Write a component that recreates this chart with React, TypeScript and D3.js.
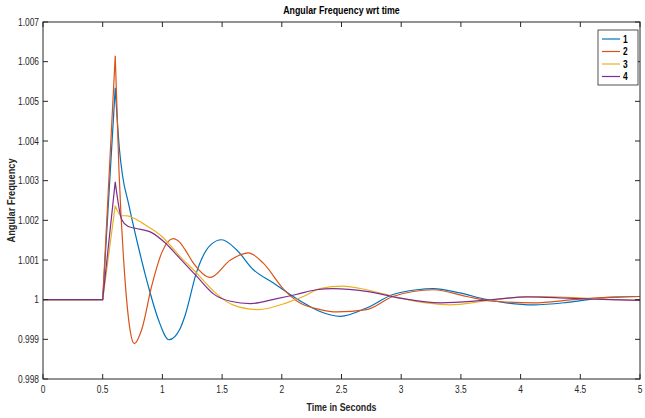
import React from "react";
import * as d3 from "d3";

const seriesNames = ["1", "2", "3", "4"];
const seriesColors = ["#0072BD", "#D95319", "#EDB120", "#7E2F8E"];

const time1 = [0, 0.5, 0.605, 0.64, 0.665, 0.715, 0.798, 0.882, 0.966, 1.055, 1.15, 1.19, 1.287, 1.4, 1.497, 1.62, 1.76, 1.93, 2.07, 2.21, 2.32, 2.49, 2.71, 2.93, 3.13, 3.27, 3.49, 3.72, 3.88, 4.11, 4.39, 4.67, 5.0];
const value1 = [1, 1, 1.00534, 1.0038, 1.00315, 1.00244, 1.00134, 1.00034, 0.9995, 0.99899, 0.99928, 0.9996, 1.0007, 1.00137, 1.00151, 1.00126, 1.00076, 1.00042, 1.00013, 0.99987, 0.9997, 0.99958, 0.99979, 1.00013, 1.00025, 1.00028, 1.00017, 1.0, 0.99992, 0.99987, 0.99993, 1.00004, 1.00008];

const time2 = [0, 0.5, 0.605, 0.636, 0.687, 0.729, 0.765, 0.826, 0.91, 0.994, 1.09, 1.15, 1.19, 1.26, 1.4, 1.57, 1.72, 1.845, 2.01, 2.15, 2.32, 2.46, 2.71, 2.93, 3.27, 3.55, 3.77, 4.11, 4.44, 4.8, 5.0];
const value2 = [1, 1, 1.00615, 1.00328, 1.0005, 0.99924, 0.99889, 0.99924, 1.00034, 1.00118, 1.00154, 1.00143, 1.00126, 1.00092, 1.00056, 1.001, 1.00118, 1.00092, 1.00028, 0.99992, 0.99975, 0.99969, 0.99975, 1.00008, 1.00025, 1.00008, 0.99996, 0.99992, 1.0, 1.00007, 1.00008];

const time3 = [0, 0.5, 0.605, 0.653, 0.71, 0.756, 0.854, 0.994, 1.15, 1.287, 1.43, 1.59, 1.8, 2.04, 2.18, 2.32, 2.51, 2.71, 2.99, 3.21, 3.41, 3.69, 3.97, 4.16, 4.53, 4.8, 5.0];
const value3 = [1, 1, 1.00237, 1.00212, 1.00211, 1.00206, 1.00189, 1.0016, 1.00108, 1.00067, 1.00021, 0.99987, 0.99975, 0.99992, 1.00008, 1.00028, 1.00034, 1.00025, 1.00004, 0.99992, 0.99987, 0.99996, 1.00006, 1.00008, 1.00004, 1.0, 0.99998];

const time4 = [0, 0.5, 0.605, 0.659, 0.71, 0.77, 0.91, 1.02, 1.15, 1.29, 1.43, 1.57, 1.74, 1.95, 2.12, 2.29, 2.43, 2.71, 2.99, 3.33, 3.69, 4.05, 4.39, 4.75, 5.0];
const value4 = [1, 1, 1.00297, 1.00202, 1.00185, 1.0018, 1.00169, 1.00144, 1.00103, 1.00058, 1.00014, 0.99996, 0.9999, 1.00002, 1.00013, 1.00025, 1.00028, 1.00021, 1.00004, 0.99992, 0.99998, 1.00007, 1.00004, 1.0, 0.99998];

const xTicks = [0, 0.5, 1, 1.5, 2, 2.5, 3, 3.5, 4, 4.5, 5];
const xTickLabels = ["0", "0.5", "1", "1.5", "2", "2.5", "3", "3.5", "4", "4.5", "5"];
const yTicks = [0.998, 0.999, 1, 1.001, 1.002, 1.003, 1.004, 1.005, 1.006, 1.007];
const yTickLabels = ["0.998", "0.999", "1", "1.001", "1.002", "1.003", "1.004", "1.005", "1.006", "1.007"];

const titleText = "Angular Frequency wrt time";
const xLabelText = "Time in Seconds";
const yLabelText = "Angular Frequency";

const W = 645;
const H = 418;
const M = { left: 43, right: 5, top: 22, bottom: 39 };
const FONT = "'Liberation Sans', Arial, sans-serif";
const AX = "#262626";
const SX = 0.84;

function NText(props: {
  x: number;
  y: number;
  rotate?: number;
  anchor?: "start" | "middle" | "end";
  size: number;
  bold?: boolean;
  fill?: string;
  children: React.ReactNode;
}) {
  const { x, y, rotate = 0, anchor = "start", size, bold, fill = "#262626", children } = props;
  return (
    <text
      transform={`translate(${x},${y}) rotate(${rotate}) scale(${SX},1)`}
      textAnchor={anchor}
      fontSize={size}
      fontWeight={bold ? "bold" : "normal"}
      fill={fill}
    >
      {children}
    </text>
  );
}

export default function App() {
  const x = d3.scaleLinear().domain([0, 5]).range([M.left, W - M.right]);
  const y = d3.scaleLinear().domain([0.998, 1.007]).range([H - M.bottom, M.top]);

  const allTimes = [time1, time2, time3, time4];
  const allValues = [value1, value2, value3, value4];

  const series = allTimes.map((ts, i) =>
    ts.map((t, j) => [t, allValues[i][j]] as [number, number])
  );

  const linearLine = d3
    .line<[number, number]>()
    .x((d) => x(d[0]))
    .y((d) => y(d[1]))
    .curve(d3.curveLinear);
  const smoothLine = d3
    .line<[number, number]>()
    .x((d) => x(d[0]))
    .y((d) => y(d[1]))
    .curve(d3.curveMonotoneX);

  const pathFor = (pts: [number, number][]) => {
    const peak = d3.maxIndex(pts, (d) => d[1]);
    const head = linearLine(pts.slice(0, peak + 1)) || "";
    const tail = smoothLine(pts.slice(peak)) || "";
    return head + " " + tail;
  };

  const x0 = M.left;
  const x1 = W - M.right;
  const y0 = H - M.bottom;
  const y1 = M.top;
  const tl = 5;

  const legX = 598;
  const legY = 30;
  const legW = 40;
  const legH = 55;

  return (
    <svg
      width={W}
      height={H}
      style={{ position: "absolute", left: 0, top: 0, background: "#fff" }}
      fontFamily={FONT}
    >
      <rect x={0} y={0} width={W} height={H} fill="#fff" />
      {series.map((pts, i) => (
        <path
          key={i}
          d={pathFor(pts)}
          fill="none"
          stroke={seriesColors[i]}
          strokeWidth={1.2}
          strokeLinejoin="round"
        />
      ))}
      <rect x={x0} y={y1} width={x1 - x0} height={y0 - y1} fill="none" stroke={AX} strokeWidth={1} />
      {xTicks.map((t, i) => (
        <g key={"xt" + i}>
          <line x1={x(t)} x2={x(t)} y1={y0} y2={y0 - tl} stroke={AX} />
          <line x1={x(t)} x2={x(t)} y1={y1} y2={y1 + tl} stroke={AX} />
          <NText x={x(t)} y={y0 + 14} anchor="middle" size={10}>
            {xTickLabels[i]}
          </NText>
        </g>
      ))}
      {yTicks.map((t, i) => (
        <g key={"yt" + i}>
          <line x1={x0} x2={x0 + tl} y1={y(t)} y2={y(t)} stroke={AX} />
          <line x1={x1} x2={x1 - tl} y1={y(t)} y2={y(t)} stroke={AX} />
          <NText x={x0 - 4} y={y(t) + 3.5} anchor="end" size={10}>
            {yTickLabels[i]}
          </NText>
        </g>
      ))}
      <NText x={(x0 + x1) / 2} y={14} anchor="middle" size={10.5} bold fill="#000">
        {titleText}
      </NText>
      <NText x={(x0 + x1) / 2} y={411} anchor="middle" size={10.5} bold>
        {xLabelText}
      </NText>
      <NText x={15} y={(y0 + y1) / 2} rotate={-90} anchor="middle" size={11} bold>
        {yLabelText}
      </NText>
      <rect x={legX} y={legY} width={legW} height={legH} fill="#fff" stroke={AX} strokeWidth={0.8} />
      {seriesNames.map((n, i) => (
        <g key={"lg" + i}>
          <line
            x1={legX + 4}
            x2={legX + 22}
            y1={legY + 9 + i * 12.5}
            y2={legY + 9 + i * 12.5}
            stroke={seriesColors[i]}
            strokeWidth={1.2}
          />
          <NText x={legX + 25} y={legY + 12.5 + i * 12.5} size={10} bold fill="#000">
            {n}
          </NText>
        </g>
      ))}
    </svg>
  );
}
